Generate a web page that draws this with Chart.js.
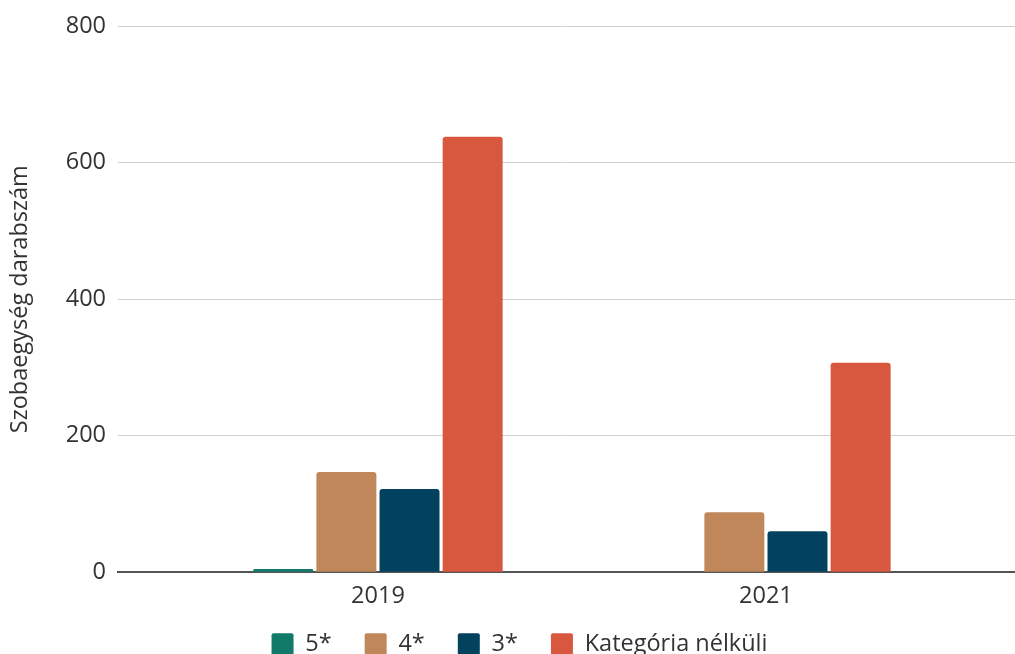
<!DOCTYPE html>
<html>
<head>
<meta charset="utf-8">
<script src="https://cdn.jsdelivr.net/npm/chart.js@4/dist/chart.umd.min.js"></script>
<style>
html,body{margin:0;padding:0;background:#fff;}
#wrap{width:1015px;height:654px;}
</style>
</head>
<body>
<div id="wrap"><canvas id="c" width="1015" height="654"></canvas></div>
<script>
const years = [2019, 2021];
const seriesNames = ['5*', '4*', '3*', 'Kategória nélküli'];
const stars5 = [5, 0];
const stars4 = [147, 88];
const stars3 = [122, 60];
const noCategory = [638, 307];
const yTicks = [0, 200, 400, 600, 800];
const colors = ['#127a68', '#c0875a', '#03425e', '#d8573f'];

const seriesValues = [stars5, stars4, stars3, noCategory];
const datasets = seriesNames.map((name, i) => ({
  label: name,
  data: years.map((yr, j) => ({x: yr, y: seriesValues[i][j]})),
  backgroundColor: colors[i],
  borderWidth: 0,
  borderRadius: {topLeft: 3, topRight: 3, bottomLeft: 0, bottomRight: 0},
  borderSkipped: 'bottom',
  categoryPercentage: 0.651,
  barPercentage: 0.95
}));

Chart.defaults.font.family = '"Open Sans", sans-serif';
Chart.defaults.color = '#333';

const legendShift = {
  id: 'legendShift',
  afterLayout(chart) {
    const lg = chart.legend;
    if (lg) { lg.left += 12; lg.right += 12; lg.top -= 21; lg.bottom -= 21; }
  }
};

new Chart(document.getElementById('c'), {
  type: 'bar',
  data: {datasets},
  plugins: [legendShift],
  options: {
    responsive: false,
    animation: false,
    layout: {padding: {top: 21, left: 0, right: 0, bottom: -33}},
    scales: {
      x: {
        type: 'linear',
        offset: false,
        min: 2017.66,
        max: 2022.284,
        afterBuildTicks: (s) => { s.ticks = years.map(v => ({value: v})); },
        ticks: {
          font: {size: 23.5},
          color: '#333',
          padding: 10,
          callback: (v) => String(v)
        },
        grid: {display: false, drawTicks: false},
        border: {display: true, color: '#555', width: 2}
      },
      y: {
        min: 0,
        max: 800,
        afterBuildTicks: (s) => { s.ticks = yTicks.map(v => ({value: v})); },
        afterFit: (s) => { s.width = 118; },
        ticks: {font: {size: 23.5}, color: '#333', padding: 12},
        grid: {color: '#d0d0d0', lineWidth: 1, drawTicks: false},
        border: {display: false},
        title: {
          display: true,
          text: 'Szobaegység darabszám',
          font: {size: 23.5},
          color: '#333',
          padding: {top: 6, bottom: 0}
        }
      }
    },
    plugins: {
      legend: {
        position: 'bottom',
        labels: {
          boxWidth: 22,
          boxHeight: 22,
          padding: 33,
          font: {size: 23.5},
          color: '#333',
          useBorderRadius: true,
          borderRadius: 2
        }
      },
      tooltip: {enabled: false}
    }
  }
});
</script>
</body>
</html>
